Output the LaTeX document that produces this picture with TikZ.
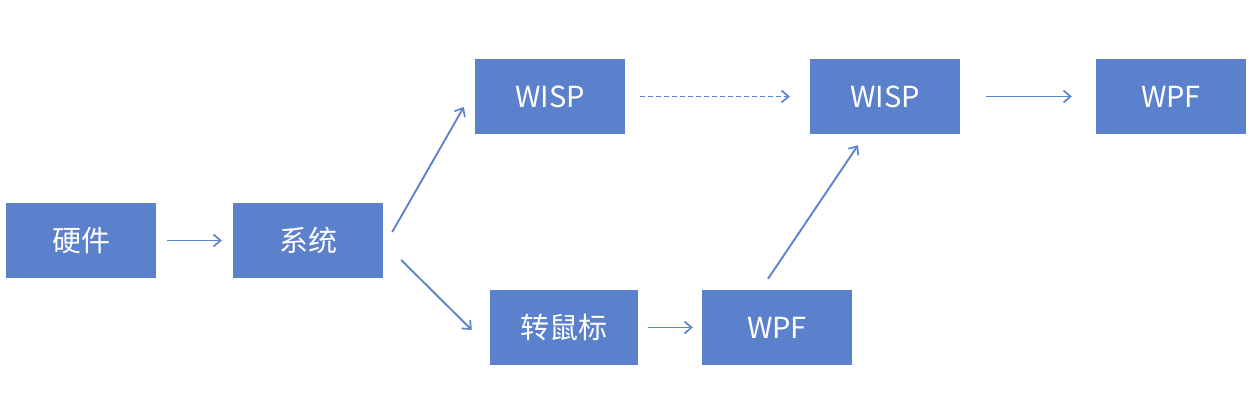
\documentclass[tikz,border=0pt]{standalone}
\usepackage{fontspec}
\setmainfont{Noto Sans CJK SC}
\usetikzlibrary{arrows.meta,calc}
\definecolor{boxblue}{RGB}{91,129,204}
\definecolor{arrblue}{RGB}{94,131,205}
\tikzset{
  blk/.style={fill=boxblue, draw=none, minimum width=150pt, minimum height=75pt,
    inner sep=0pt, text=white, font=\fontsize{29pt}{34pt}\selectfont},
  arr/.style={draw=arrblue, line width=1.9pt, -{Straight Barb[length=7pt,width=12pt,line width=1.7pt]}},
}
\begin{document}
\begin{tikzpicture}[x=1pt,y=-1pt]
\useasboundingbox (0,0) rectangle (1253,413);
\node[blk] (hw) at (81,240.5) {硬件};
\node[blk] (xt) at (308,240.5) {系统};
\node[blk] (w1) at (550,96.5) {WISP};
\node[blk] (w2) at (885,96.5) {WISP};
\node[blk] (wpf1) at (1171,96.5) {WPF};
\node[blk, minimum width=148pt] (zs) at (564,327.5) {转鼠标};
\node[blk] (wpf2) at (777,327.5) {WPF};
\draw[arr, shorten <=11pt, shorten >=11pt] (hw.east) -- (xt.west);
\draw[arr] ($(xt.east)+(9,-8.5)$) -- ($(w1.west)+(-11,10.5)$);
\draw[arr] ($(xt.east)+(18,19.5)$) -- ($(zs.west)+(-18,2.5)$);
\draw[arr, dash pattern=on 5pt off 3pt, shorten <=15pt, shorten >=20pt] (w1.east) -- (w2.west);
\draw[arr, shorten <=26pt, shorten >=24pt] (w2.east) -- (wpf1.west);
\draw[arr, shorten <=10pt, shorten >=9pt] (zs.east) -- (wpf2.west);
\draw[arr] ($(wpf2.north)+(-9,-11)$) -- ($(w2.south)+(-27,11)$);
\end{tikzpicture}
\end{document}
